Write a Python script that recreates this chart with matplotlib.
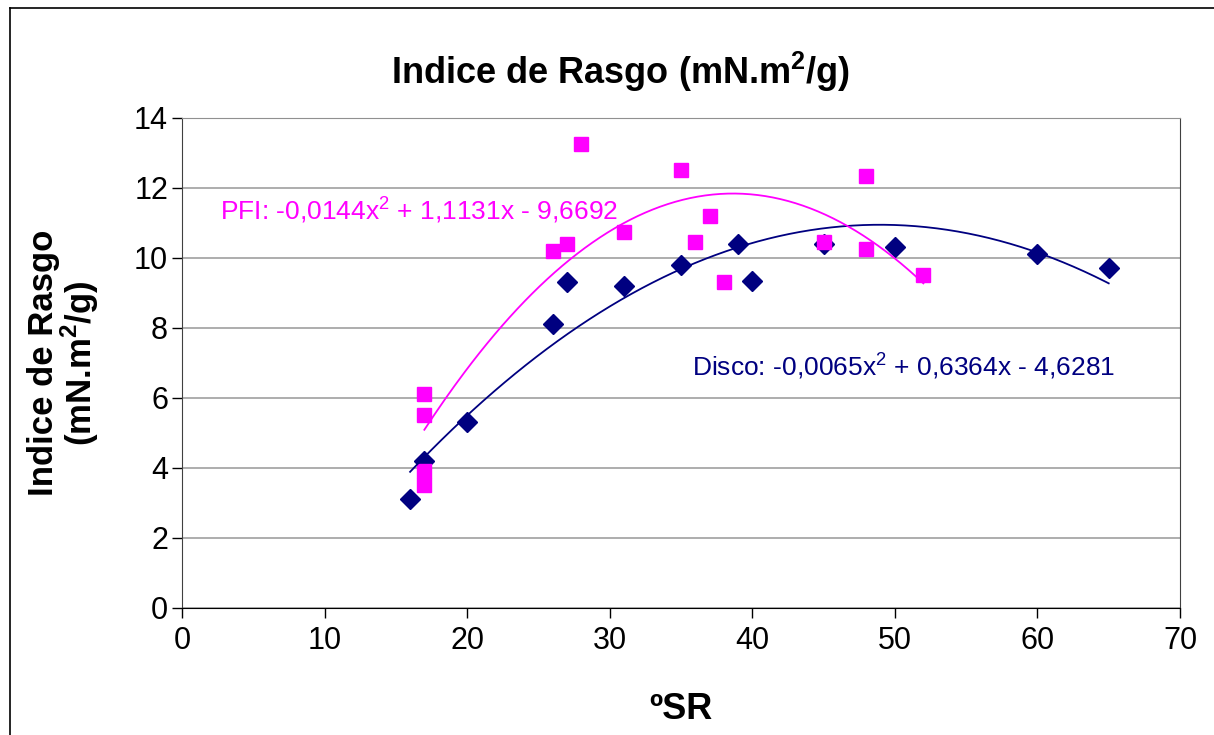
import numpy as np
import matplotlib
matplotlib.use('Agg')
import matplotlib.pyplot as plt
from matplotlib.lines import Line2D

plt.rcParams['font.family'] = ['Liberation Sans', 'DejaVu Sans']
plt.rcParams['mathtext.fontset'] = 'custom'
plt.rcParams['mathtext.rm'] = 'Liberation Sans'
plt.rcParams['mathtext.bf'] = 'Liberation Sans:bold'

# Disco (navy diamonds)
disco_sr = [16, 17, 20, 26, 27, 31, 35, 39, 40, 45, 50, 60, 65]
disco_ir = [3.1, 4.2, 5.3, 8.1, 9.3, 9.2, 9.8, 10.4, 9.35, 10.4, 10.3, 10.1, 9.7]

# PFI (magenta squares)
pfi_sr = [17, 17, 17, 17, 26, 27, 28, 31, 35, 36, 37, 38, 45, 48, 48, 52]
pfi_ir = [6.1, 5.5, 3.9, 3.5, 10.2, 10.4, 13.25, 10.75, 12.5, 10.45, 11.2, 9.3, 10.45, 12.35, 10.25, 9.5]

# trendline coefficients as printed on the chart
disco_coef = [-0.0065, 0.6364, -4.6281]
pfi_coef = [-0.0144, 1.1131, -9.6692]

navy = '#000080'
magenta = '#FF00FF'

fig = plt.figure(figsize=(12.14, 7.35), dpi=100)
ax = fig.add_axes([0.1499, 0.1728, 0.8221, 0.6667])

ax.plot(disco_sr, disco_ir, linestyle='none', marker='D', ms=10.5, color=navy, zorder=3)
ax.plot(pfi_sr, pfi_ir, linestyle='none', marker='s', ms=10, color=magenta, zorder=3)

xd = np.linspace(min(disco_sr), max(disco_sr), 200)
xp = np.linspace(min(pfi_sr), max(pfi_sr), 200)
ax.plot(xd, np.polyval(disco_coef, xd), color=navy, lw=1.3, zorder=4)
ax.plot(xp, np.polyval(pfi_coef, xp), color=magenta, lw=1.3, zorder=4)

ax.text(2.7, 11.37, 'PFI: -0,0144x$^2$ + 1,1131x - 9,6692', color=magenta, fontsize=19, va='center', ha='left')
ax.text(35.8, 6.94, 'Disco: -0,0065x$^2$ + 0,6364x - 4,6281', color=navy, fontsize=19, va='center', ha='left')

ax.set_xlim(0, 70)
ax.set_ylim(0, 14)
ax.set_xticks(range(0, 71, 10))
ax.set_yticks(range(0, 15, 2))
ax.yaxis.grid(True, color='#a0a0a0', lw=1.2)
ax.set_axisbelow(True)
ax.tick_params(axis='both', labelsize=22, length=7, direction='out', width=1)
ax.tick_params(axis='y', pad=3)
ax.tick_params(axis='x', pad=6)

ax.spines['left'].set_color('#404040')
ax.spines['bottom'].set_color('black')
ax.spines['top'].set_color('#909090')
ax.spines['right'].set_color('#404040')

fig.text(621/1214, 1 - 72/735, 'Indice de Rasgo (mN.m$^\\mathbf{2}$/g)', fontsize=26, fontweight='bold',
         ha='center', va='center')
ax.set_xlabel('ºSR', fontsize=26, fontweight='bold', labelpad=26)
ax.set_ylabel('Indice de Rasgo\n(mN.m$^\\mathbf{2}$/g)', fontsize=25, fontweight='bold', labelpad=24, linespacing=0.95)

# outer chart border (cropped on right and bottom)
fig.add_artist(Line2D([10/1214, 1.0], [1 - 8/735, 1 - 8/735], color='black', lw=1.2, transform=fig.transFigure))
fig.add_artist(Line2D([10/1214, 10/1214], [0, 1 - 8/735], color='black', lw=1.2, transform=fig.transFigure))

plt.savefig('out.png', dpi=100)
